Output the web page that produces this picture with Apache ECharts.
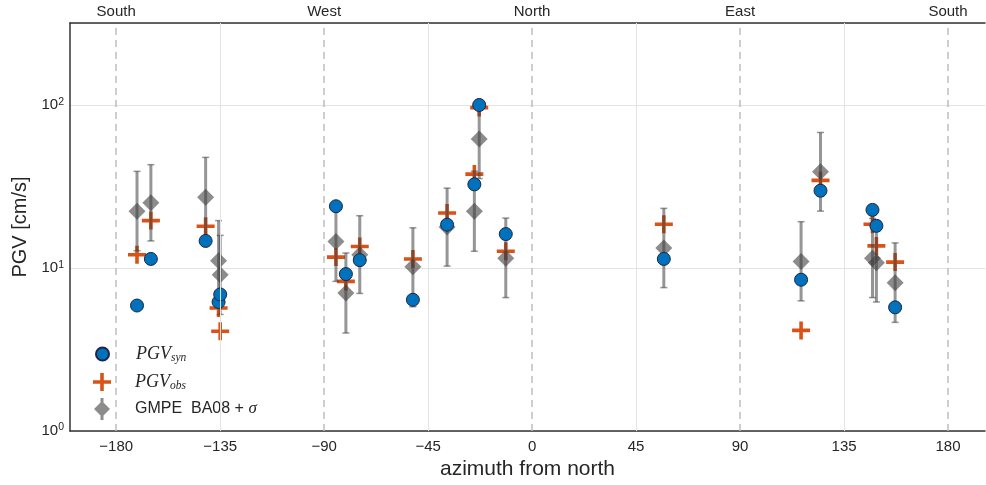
<!DOCTYPE html>
<html>
<head>
<meta charset="utf-8">
<script src="https://cdn.jsdelivr.net/npm/echarts@6/dist/echarts.min.js"></script>
<style>
html,body{margin:0;padding:0;background:#fff;}
#chart{width:986px;height:485px;}
</style>
</head>
<body>
<div id="chart"></div>
<script>
// ---- data ----
const azimuth  = [-171.0, -165.0, -141.3, -135.7, -135.0, -84.9, -80.6, -74.6, -51.6, -36.8, -25.0, -22.9, -11.4, 57.0, 116.4, 124.8, 147.3, 149.0, 157.1];
const pgvSyn   = [5.9, 11.4, 14.7, 6.2, 6.9, 24.0, 9.2, 11.2, 6.4, 18.5, 32.7, 100.4, 16.2, 11.4, 8.5, 29.9, 22.8, 18.2, 5.75];
const pgvObs   = [12.1, 19.6, 18.1, 5.7, 4.1, 11.7, 8.3, 13.6, 11.4, 21.8, 37.8, 96.8, 12.7, 18.6, 4.15, 34.6, 18.6, 13.7, 10.9];
const gmpeMean = [22.4, 25.2, 27.3, 11.1, 9.1, 14.6, 7.05, 12.1, 10.2, 17.9, 22.4, 62.0, 11.5, 13.3, 11.0, 39.1, 11.5, 10.8, 8.15];
const gmpeLow  = [12.8, 14.7, 15.5, 6.3, 5.2, 8.3, 4.0, 7.0, 5.8, 10.3, 12.7, 35.5, 6.6, 7.6, 6.3, 22.4, 6.6, 6.2, 4.65];
const gmpeHigh = [39.3, 43.2, 47.9, 19.6, 15.9, 25.6, 12.4, 21.0, 17.7, 31.0, 39.4, 108.0, 20.3, 23.3, 19.3, 68.1, 20.2, 18.8, 14.3];
const xTickValues = [-180, -135, -90, -45, 0, 45, 90, 135, 180];
const dirTickValues = [-180, -90, 0, 90, 180];
const dirTickLabels = ['South', 'West', 'North', 'East', 'South'];
const legendNames = ['PGV_syn', 'PGV_obs', 'GMPE  BA08 + σ'];

const FONT = "'Liberation Sans', Arial, sans-serif";
const SERIF = "'Liberation Serif', 'DejaVu Serif', serif";
const TXT = '#262626';
const PLUS = 'path://M-1.8,-9H1.8V-1.8H9V1.8H1.8V9H-1.8V1.8H-9V-1.8H-1.8Z';
const DIAMOND_BAR = 'path://M0,-8L8,0L0,8L-8,0Z M-1.5,-11H1.5V11H-1.5Z';

const chart = echarts.init(document.getElementById('chart'), null, {renderer: 'canvas'});

const sciRich = {
  b: {fontSize: 15, fontFamily: FONT, color: TXT, lineHeight: 18},
  e: {fontSize: 10.5, fontFamily: FONT, color: TXT, verticalAlign: 'top', lineHeight: 10}
};
function makeRich(pad) {
  return {
    i: {fontFamily: SERIF, fontStyle: 'italic', fontSize: 18, color: TXT, lineHeight: 20, padding: [0, 0, 0, pad]},
    s: {fontFamily: SERIF, fontStyle: 'italic', fontSize: 11.5, color: TXT, verticalAlign: 'bottom', lineHeight: 4},
    t: {fontFamily: FONT, fontSize: 16, color: TXT, lineHeight: 20, padding: [0, 0, 0, pad]},
    g: {fontFamily: SERIF, fontStyle: 'italic', fontSize: 17, color: TXT, lineHeight: 20}
  };
}
function legendFmt(name) {
  if (name === legendNames[0]) return '{i|PGV}{s|syn}';
  if (name === legendNames[1]) return '{i|PGV}{s|obs}';
  return '{t|GMPE  BA08 + }{g|σ}';
}
function mkLegend(name, icon, w, h, left, top, pad) {
  return {
    data: [{name: name, icon: icon}],
    orient: 'vertical', left: left, top: top, padding: 0,
    itemWidth: w, itemHeight: h, symbolKeepAspect: true,
    selectedMode: false,
    formatter: legendFmt,
    textStyle: {color: TXT, rich: makeRich(pad)}
  };
}

const gridLines = xTickValues.map(v => ({
  xAxis: v,
  lineStyle: (v % 90 === 0)
    ? {color: '#bdbdbd', width: 1.5, type: [7, 5]}
    : {color: '#e3e3e3', width: 1, type: 'solid'}
}));

const option = {
  animation: false,
  backgroundColor: '#fff',
  textStyle: {fontFamily: FONT},
  grid: {left: 70, right: 1, top: 23, bottom: 52, containLabel: false},
  legend: [
    mkLegend(legendNames[0], 'circle', 13, 13, 95, 345, 22),
    mkLegend(legendNames[1], PLUS, 18, 18, 93, 373, 19),
    mkLegend(legendNames[2], DIAMOND_BAR, 16, 22, 94, 398, 20)
  ],
  xAxis: [
    {
      type: 'value', min: -200, max: 196, position: 'bottom',
      name: 'azimuth from north', nameLocation: 'middle', nameGap: 22,
      nameTextStyle: {fontSize: 21, color: TXT, fontFamily: FONT},
      axisLine: {show: true, onZero: false, lineStyle: {color: '#333', width: 1.5}},
      axisTick: {show: false},
      splitLine: {show: false},
      axisLabel: {
        customValues: xTickValues, margin: 8, fontSize: 15, color: TXT, fontFamily: FONT,
        formatter: v => (v < 0 ? '\u2212' + Math.abs(v) : String(v))
      }
    },
    {
      type: 'value', min: -200, max: 196, position: 'top',
      axisLine: {show: true, onZero: false, lineStyle: {color: '#333', width: 1.5}},
      axisTick: {show: false},
      splitLine: {show: false},
      axisLabel: {
        customValues: dirTickValues, margin: 4, fontSize: 15, color: TXT, fontFamily: FONT,
        formatter: v => dirTickLabels[dirTickValues.indexOf(v)]
      }
    }
  ],
  yAxis: [{
    type: 'log', logBase: 10, min: 1, max: 320,
    name: 'PGV [cm/s]', nameLocation: 'middle', nameGap: 33,
    nameTextStyle: {fontSize: 20, color: TXT, fontFamily: FONT},
    axisLine: {show: true, onZero: false, lineStyle: {color: '#333', width: 1.5}},
    axisTick: {show: false},
    minorTick: {show: false},
    splitLine: {show: true, lineStyle: {color: '#e3e3e3', width: 1}},
    axisLabel: {
      showMaxLabel: false, margin: 6,
      formatter: v => '{b|10}{e|' + Math.round(Math.log10(v)) + '}',
      rich: sciRich
    }
  }],
  series: [
    {
      name: 'grid', type: 'line', data: [], z: 1, silent: true,
      markLine: {silent: true, symbol: ['none', 'none'], label: {show: false}, animation: false, data: gridLines}
    },
    {
      name: legendNames[1], type: 'scatter', z: 2,
      symbol: PLUS, symbolSize: 18,
      itemStyle: {color: '#D95319', opacity: 1},
      data: azimuth.map((x, i) => [x, pgvObs[i]])
    },
    {
      name: 'GMPE sigma', type: 'custom', z: 3,
      data: azimuth.map((x, i) => [x, gmpeLow[i], gmpeHigh[i]]),
      encode: {x: 0, y: [1, 2]},
      renderItem: function (params, api) {
        const x = api.value(0);
        const lo = api.coord([x, api.value(1)]);
        const hi = api.coord([x, api.value(2)]);
        const c = 'rgba(64,64,64,0.55)';
        return {
          type: 'group',
          children: [
            {type: 'line', shape: {x1: lo[0], y1: lo[1], x2: hi[0], y2: hi[1]}, style: {stroke: c, lineWidth: 3}},
            {type: 'line', shape: {x1: hi[0] - 3.5, y1: hi[1], x2: hi[0] + 3.5, y2: hi[1]}, style: {stroke: c, lineWidth: 1.5}},
            {type: 'line', shape: {x1: lo[0] - 3.5, y1: lo[1], x2: lo[0] + 3.5, y2: lo[1]}, style: {stroke: c, lineWidth: 1.5}}
          ]
        };
      }
    },
    {
      name: legendNames[2], type: 'scatter', z: 3,
      symbol: 'diamond', symbolSize: 17,
      itemStyle: {color: 'rgba(64,64,64,0.6)', opacity: 1},
      data: azimuth.map((x, i) => [x, gmpeMean[i]])
    },
    {
      name: legendNames[0], type: 'scatter', z: 4,
      symbol: 'circle', symbolSize: 13,
      itemStyle: {color: '#0072BD', borderColor: '#1b2640', borderWidth: 1, opacity: 1},
      data: azimuth.map((x, i) => [x, pgvSyn[i]])
    }
  ]
};
chart.setOption(option);
</script>
</body>
</html>
